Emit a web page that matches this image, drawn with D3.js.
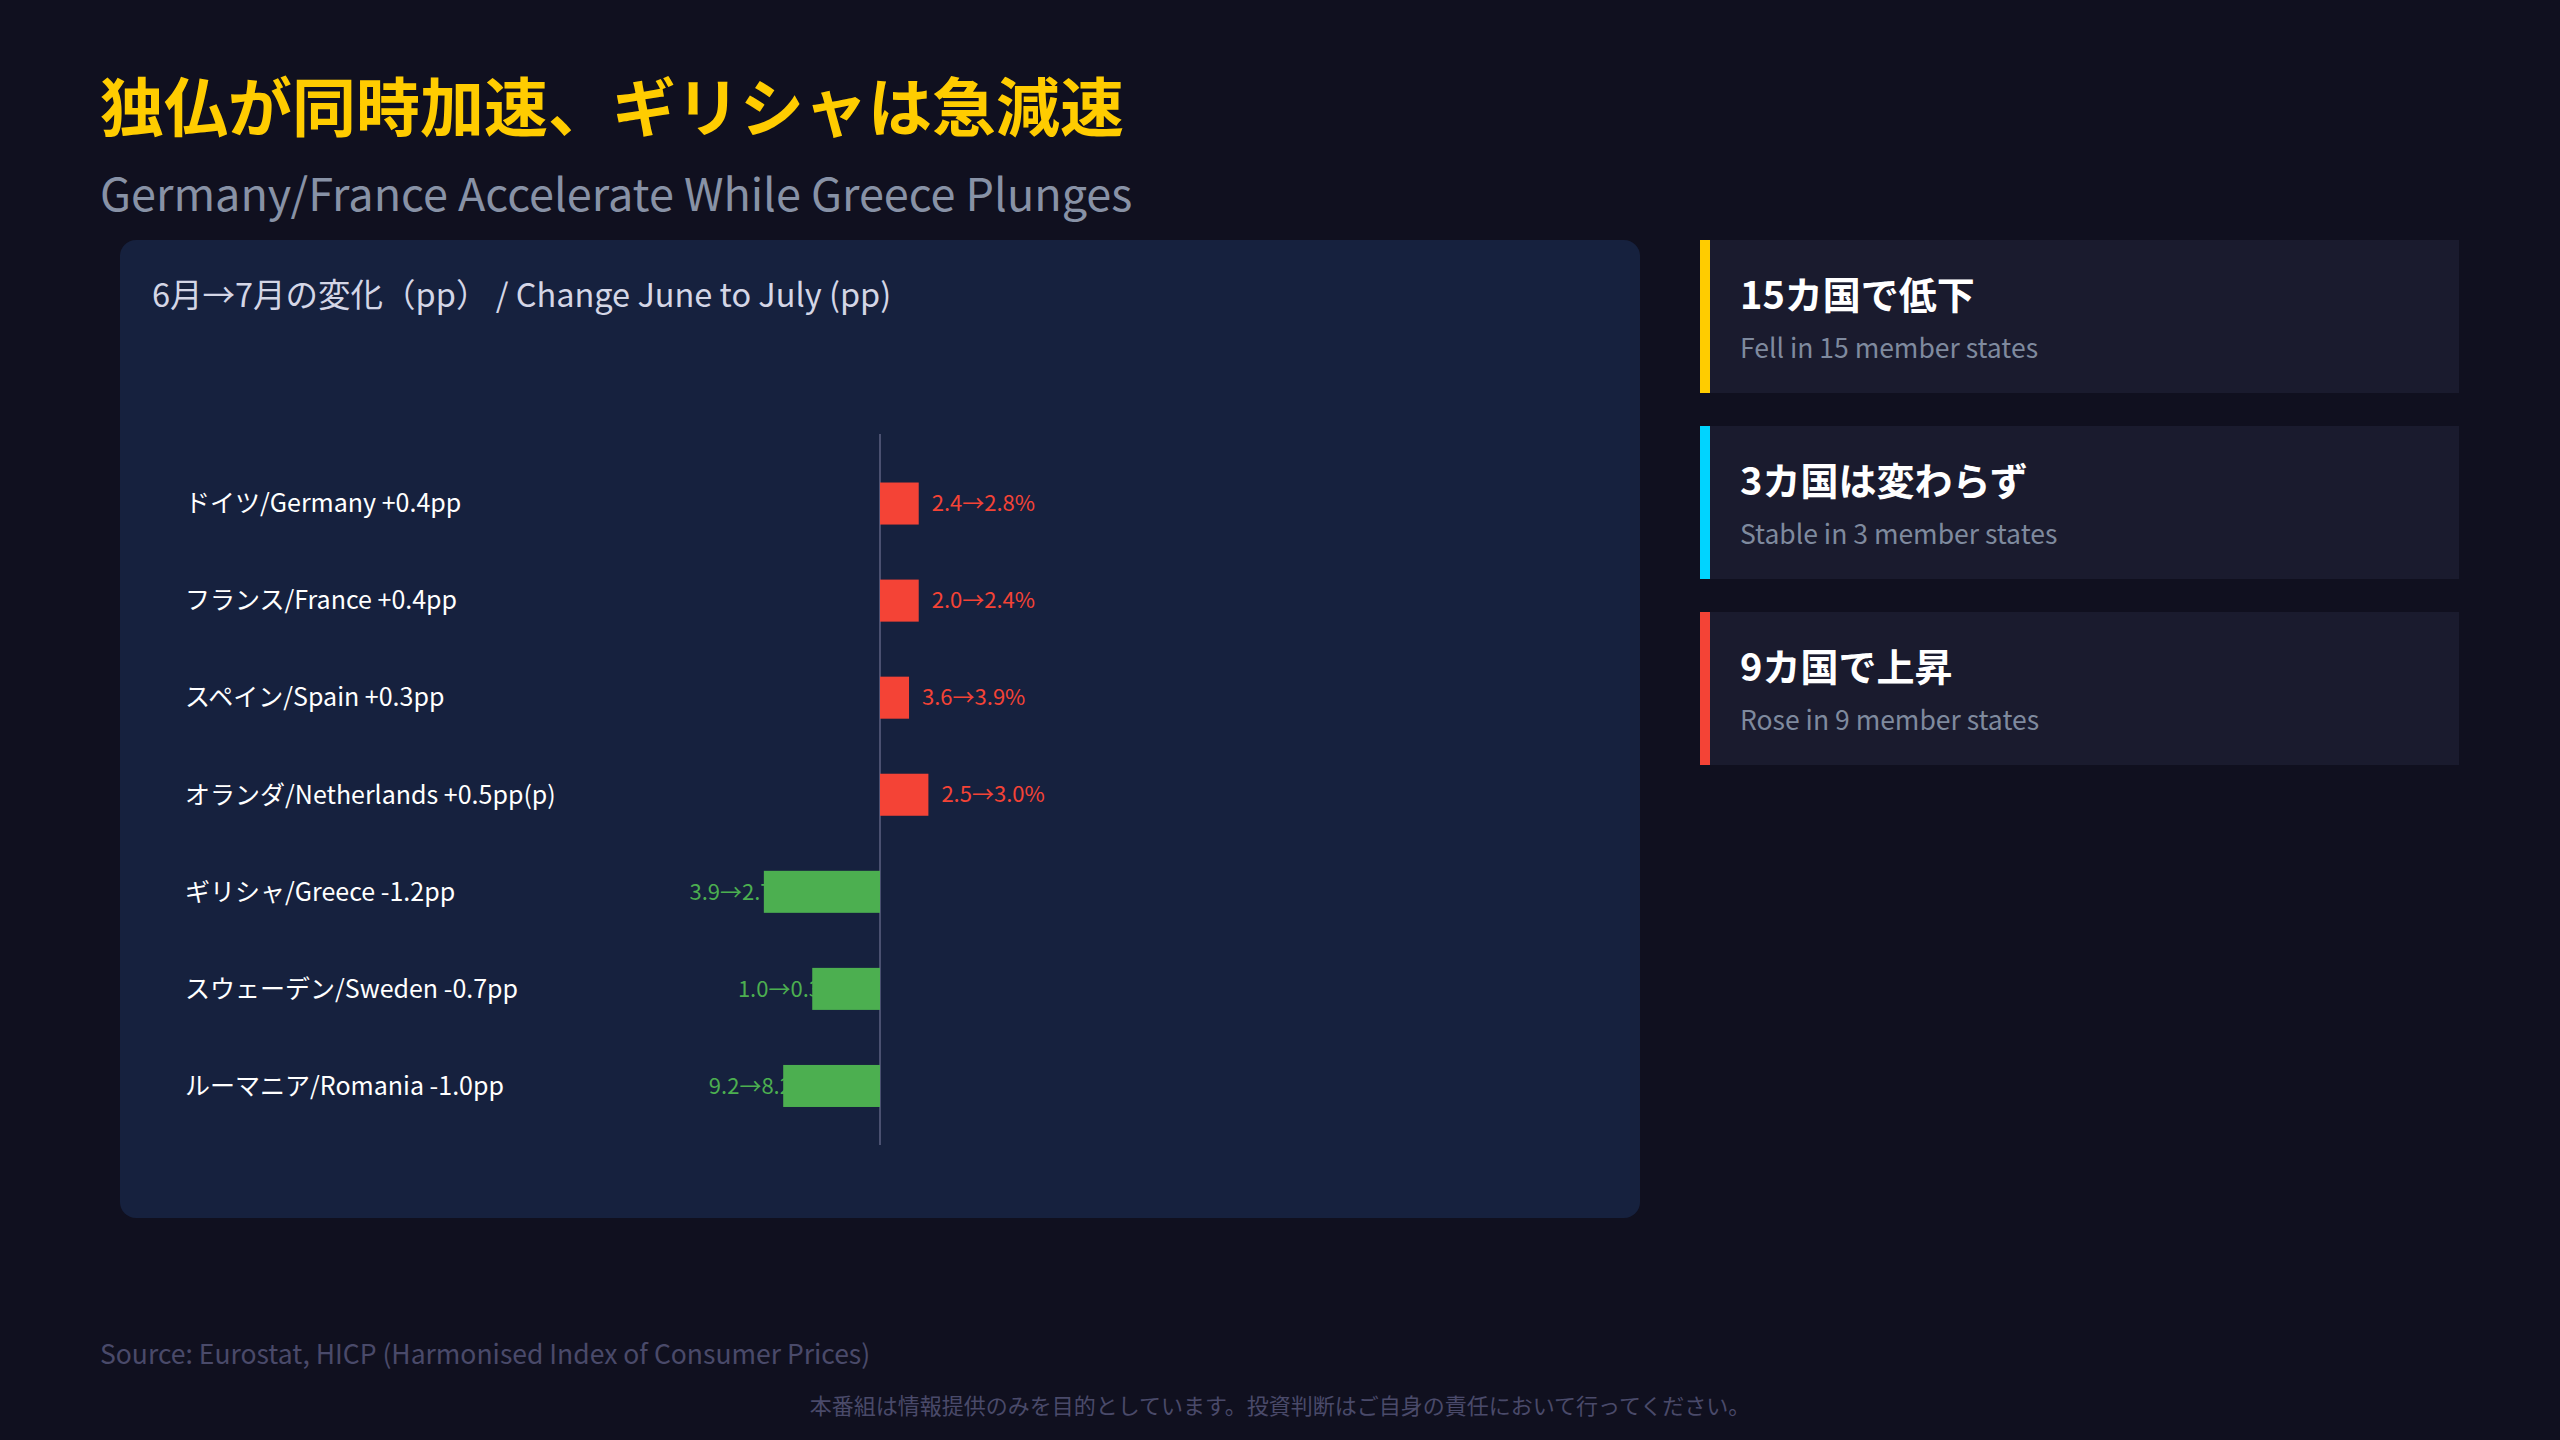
<!DOCTYPE html>
<html lang="ja">
<head>
<meta charset="utf-8">
<script src="https://cdn.jsdelivr.net/npm/d3@7"></script>
<style>
  html, body { margin: 0; padding: 0; background: #10101f; }
  svg { display: block; }
  text { font-family: "Hiragino Sans", "Noto Sans CJK JP", "Noto Sans", sans-serif; }
</style>
</head>
<body>
<svg id="chart" width="2560" height="1440"></svg>
<script>
// ---- data ----
const countries = ["ドイツ/Germany", "フランス/France", "スペイン/Spain", "オランダ/Netherlands", "ギリシャ/Greece", "スウェーデン/Sweden", "ルーマニア/Romania"];
const juneRate = [2.4, 2.0, 3.6, 2.5, 3.9, 1.0, 9.2];
const julyRate = [2.8, 2.4, 3.9, 3.0, 2.7, 0.3, 8.2];
const changePP = [0.4, 0.4, 0.3, 0.5, -1.2, -0.7, -1.0];
const notes = ["", "", "", "(p)", "", "", ""];

const cardTitles = ["15カ国で低下", "3カ国は変わらず", "9カ国で上昇"];
const cardSubs = ["Fell in 15 member states", "Stable in 3 member states", "Rose in 9 member states"];
const cardColors = ["#ffcc00", "#00d4ff", "#f44336"];

const titleText = "独仏が同時加速、ギリシャは急減速";
const subtitleText = "Germany/France Accelerate While Greece Plunges";
const panelTitle = "6月→7月の変化（pp） / Change June to July (pp)";
const sourceText = "Source: Eurostat, HICP (Harmonised Index of Consumer Prices)";
const disclaimer = "本番組は情報提供のみを目的としています。投資判断はご自身の責任において行ってください。";

const rows = countries.map((c, i) => ({
  name: c, june: juneRate[i], july: julyRate[i], change: changePP[i], note: notes[i]
}));

const svg = d3.select("#chart");

// background
svg.append("rect").attr("width", 2560).attr("height", 1440).attr("fill", "#10101f");

// titles
svg.append("text").attr("x", 100).attr("y", 131)
  .attr("font-size", 64).attr("font-weight", 700).attr("fill", "#ffcc00")
  .text(titleText);
svg.append("text").attr("x", 100).attr("y", 211)
  .attr("font-size", 45).attr("fill", "#8892a6")
  .text(subtitleText);

// panel
svg.append("rect").attr("x", 120).attr("y", 240).attr("width", 1520).attr("height", 978)
  .attr("rx", 16).attr("fill", "#16213e");
svg.append("text").attr("x", 152).attr("y", 307)
  .attr("font-size", 32.5).attr("fill", "#d4d6e6")
  .text(panelTitle);

// scales
const x = d3.scaleLinear().domain([-3, 3]).range([880 - 3 * 96.8, 880 + 3 * 96.8]);
const y = d3.scaleBand().domain(countries).range([455, 1134.5]).paddingInner(0.567).paddingOuter(0.2835);

// zero line
svg.append("line")
  .attr("x1", x(0)).attr("x2", x(0)).attr("y1", 434).attr("y2", 1145)
  .attr("stroke", "#4a5070").attr("stroke-width", 2);

const g = svg.append("g");

// country labels
g.selectAll("text.name").data(rows).join("text")
  .attr("class", "name")
  .attr("x", 185)
  .attr("y", d => y(d.name) + y.bandwidth() / 2)
  .attr("dy", "0.35em")
  .attr("font-size", 25).attr("fill", "#ffffff")
  .text(d => `${d.name} ${d.change > 0 ? "+" : "-"}${Math.abs(d.change).toFixed(1)}pp${d.note}`);

// value labels (drawn beneath bars)
g.selectAll("text.val").data(rows).join("text")
  .attr("class", "val")
  .attr("x", d => d.change >= 0 ? x(d.change) + 13 : x(d.change) + 29)
  .attr("text-anchor", d => d.change >= 0 ? "start" : "end")
  .attr("y", d => y(d.name) + y.bandwidth() / 2)
  .attr("dy", "0.35em")
  .attr("font-size", 22)
  .attr("fill", d => d.change >= 0 ? "#f44336" : "#4caf50")
  .text(d => `${d.june.toFixed(1)}→${d.july.toFixed(1)}%`);

// bars
g.selectAll("rect.bar").data(rows).join("rect")
  .attr("class", "bar")
  .attr("x", d => x(Math.min(0, d.change)))
  .attr("width", d => Math.abs(x(d.change) - x(0)))
  .attr("y", d => y(d.name))
  .attr("height", y.bandwidth())
  .attr("fill", d => d.change >= 0 ? "#f44336" : "#4caf50");

// side cards
const cards = cardTitles.map((t, i) => ({ title: t, sub: cardSubs[i], color: cardColors[i], i }));
const cg = svg.selectAll("g.card").data(cards).join("g")
  .attr("class", "card")
  .attr("transform", d => `translate(1700, ${240 + d.i * 186})`);
cg.append("rect").attr("width", 759).attr("height", 153).attr("fill", "#1a1b2e");
cg.append("rect").attr("width", 10).attr("height", 153).attr("fill", d => d.color);
cg.append("text").attr("x", 40).attr("y", 69)
  .attr("font-size", 38).attr("font-weight", 700).attr("fill", "#ffffff")
  .text(d => d.title);
cg.append("text").attr("x", 40).attr("y", 118)
  .attr("font-size", 26.5).attr("fill", "#7f8a9e")
  .text(d => d.sub);

// footer
svg.append("text").attr("x", 100).attr("y", 1364)
  .attr("font-size", 26.5).attr("fill", "#4a4a6a")
  .text(sourceText);
svg.append("text").attr("x", 1280).attr("y", 1414)
  .attr("text-anchor", "middle")
  .attr("font-size", 22).attr("fill", "#4a4a6a")
  .text(disclaimer);
</script>
</body>
</html>
